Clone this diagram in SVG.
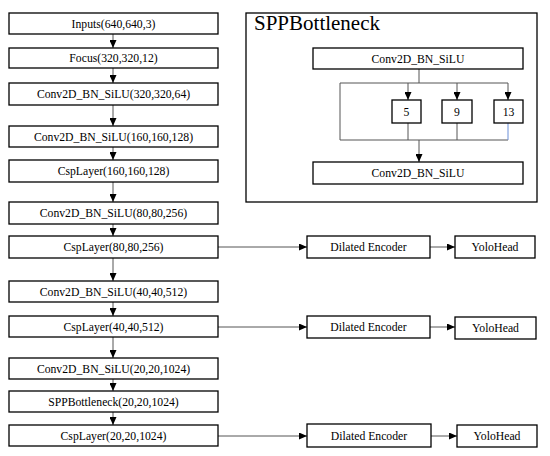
<svg xmlns="http://www.w3.org/2000/svg" width="550" height="456" viewBox="0 0 550 456">
<style>
.box{fill:#fff;stroke:#000;stroke-width:1.3}
.t{font-family:"Liberation Serif","Times New Roman",serif;font-size:11.7px;fill:#000;text-anchor:middle}
.c{fill:none;stroke:#555;stroke-width:1}
.title{font-family:"Liberation Serif","Times New Roman",serif;font-size:21px;fill:#000}
</style>
<defs>
<marker id="ah" viewBox="0 0 8 7" refX="8" refY="3.5" markerWidth="8" markerHeight="7" markerUnits="userSpaceOnUse" orient="auto">
<path d="M0,0 L8,3.5 L0,7 z" fill="#000"/>
</marker>
</defs>
<rect width="550" height="456" fill="#fff"/>
<g id="connectors">
<line class="c" x1="113" y1="34" x2="113" y2="48" marker-end="url(#ah)"/>
<line class="c" x1="113" y1="68" x2="113" y2="83" marker-end="url(#ah)"/>
<line class="c" x1="113" y1="105" x2="113" y2="126" marker-end="url(#ah)"/>
<line class="c" x1="113" y1="147" x2="113" y2="160" marker-end="url(#ah)"/>
<line class="c" x1="113" y1="182" x2="113" y2="202" marker-end="url(#ah)"/>
<line class="c" x1="113" y1="224" x2="113" y2="236" marker-end="url(#ah)"/>
<line class="c" x1="113" y1="258" x2="113" y2="281" marker-end="url(#ah)"/>
<line class="c" x1="113" y1="302" x2="113" y2="316" marker-end="url(#ah)"/>
<line class="c" x1="113" y1="337" x2="113" y2="358" marker-end="url(#ah)"/>
<line class="c" x1="113" y1="379" x2="113" y2="391" marker-end="url(#ah)"/>
<line class="c" x1="113" y1="412" x2="113" y2="425" marker-end="url(#ah)"/>
<line class="c" x1="218" y1="247" x2="307" y2="247" marker-end="url(#ah)"/>
<line class="c" x1="430" y1="247" x2="455" y2="247" marker-end="url(#ah)"/>
<line class="c" x1="218" y1="327" x2="307" y2="327" marker-end="url(#ah)"/>
<line class="c" x1="430" y1="327" x2="455" y2="327" marker-end="url(#ah)"/>
<line class="c" x1="218" y1="436" x2="307" y2="436" marker-end="url(#ah)"/>
<line class="c" x1="431" y1="436" x2="457" y2="436" marker-end="url(#ah)"/>
<line class="c" x1="419" y1="69" x2="419" y2="83"/>
<polyline class="c" points="340,140 340,83 508,83"/>
<line class="c" x1="408" y1="83" x2="408" y2="100" marker-end="url(#ah)"/>
<line class="c" x1="457" y1="83" x2="457" y2="100" marker-end="url(#ah)"/>
<line class="c" x1="508" y1="83" x2="508" y2="100" marker-end="url(#ah)"/>
<line class="c" x1="340" y1="140" x2="508" y2="140"/>
<line class="c" x1="408" y1="123" x2="408" y2="140"/>
<line class="c" x1="457" y1="123" x2="457" y2="140"/>
<line x1="508" y1="123" x2="508" y2="140" stroke="#6a8fd8" stroke-width="1"/>
<line class="c" x1="419" y1="140" x2="419" y2="162" marker-end="url(#ah)"/>
</g>
<g id="n1"><rect class="box" x="9" y="13" width="209" height="21"/><text class="t" x="113.5" y="27.5">Inputs(640,640,3)</text></g>
<g id="n2"><rect class="box" x="9" y="48" width="209" height="20"/><text class="t" x="113.5" y="62">Focus(320,320,12)</text></g>
<g id="n3"><rect class="box" x="9" y="83" width="209" height="22"/><text class="t" x="113.5" y="98">Conv2D_BN_SiLU(320,320,64)</text></g>
<g id="n4"><rect class="box" x="9" y="126" width="209" height="21"/><text class="t" x="113.5" y="140.5">Conv2D_BN_SiLU(160,160,128)</text></g>
<g id="n5"><rect class="box" x="9" y="160" width="209" height="22"/><text class="t" x="113.5" y="175">CspLayer(160,160,128)</text></g>
<g id="n6"><rect class="box" x="9" y="202" width="209" height="22"/><text class="t" x="113.5" y="217">Conv2D_BN_SiLU(80,80,256)</text></g>
<g id="n7"><rect class="box" x="9" y="236" width="209" height="22"/><text class="t" x="113.5" y="251">CspLayer(80,80,256)</text></g>
<g id="n8"><rect class="box" x="9" y="281" width="209" height="21"/><text class="t" x="113.5" y="295.5">Conv2D_BN_SiLU(40,40,512)</text></g>
<g id="n9"><rect class="box" x="9" y="316" width="209" height="21"/><text class="t" x="113.5" y="330.5">CspLayer(40,40,512)</text></g>
<g id="n10"><rect class="box" x="9" y="358" width="209" height="21"/><text class="t" x="113.5" y="372.5">Conv2D_BN_SiLU(20,20,1024)</text></g>
<g id="n11"><rect class="box" x="9" y="391" width="209" height="21"/><text class="t" x="113.5" y="405.5">SPPBottleneck(20,20,1024)</text></g>
<g id="n12"><rect class="box" x="9" y="425" width="209" height="21"/><text class="t" x="113.5" y="439.5">CspLayer(20,20,1024)</text></g>
<g id="de1"><rect class="box" x="307" y="236" width="123" height="22"/><text class="t" x="368.5" y="251">Dilated Encoder</text></g>
<g id="yh1"><rect class="box" x="455" y="236" width="80" height="22"/><text class="t" x="495" y="251">YoloHead</text></g>
<g id="de2"><rect class="box" x="307" y="316" width="123" height="22"/><text class="t" x="368.5" y="331">Dilated Encoder</text></g>
<g id="yh2"><rect class="box" x="455" y="317" width="81" height="22"/><text class="t" x="495.5" y="332">YoloHead</text></g>
<g id="de3"><rect class="box" x="307" y="424" width="124" height="23"/><text class="t" x="369" y="439.5">Dilated Encoder</text></g>
<g id="yh3"><rect class="box" x="457" y="425" width="80" height="22"/><text class="t" x="497" y="440">YoloHead</text></g>
<g id="spp">
<rect x="246" y="13" width="291" height="189" fill="none" stroke="#000" stroke-width="1.3"/>
<text class="title" x="254" y="30">SPPBottleneck</text>
</g>
<g id="spp-conv1"><rect class="box" x="313" y="48" width="210" height="21"/><text class="t" x="418" y="62.5">Conv2D_BN_SiLU</text></g>
<g id="spp-5"><rect class="box" x="392" y="100" width="29" height="23"/><text class="t" x="406.5" y="115.5">5</text></g>
<g id="spp-9"><rect class="box" x="442" y="100" width="30" height="23"/><text class="t" x="457" y="115.5">9</text></g>
<g id="spp-13"><rect class="box" x="494" y="100" width="29" height="23"/><text class="t" x="508.5" y="115.5">13</text></g>
<g id="spp-conv2"><rect class="box" x="313" y="162" width="210" height="22"/><text class="t" x="418" y="177">Conv2D_BN_SiLU</text></g>
</svg>
